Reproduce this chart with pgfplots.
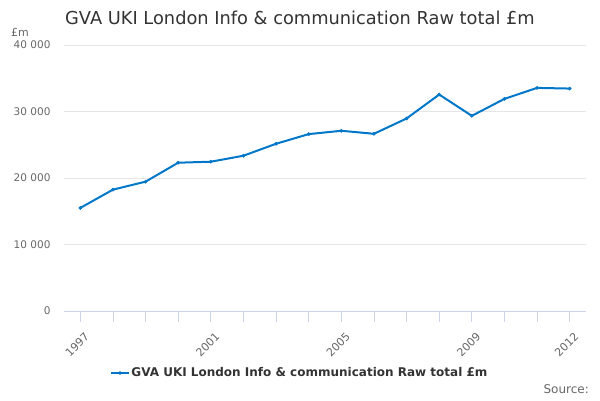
\documentclass[border=0pt]{standalone}
\usepackage{pgfplots}
\pgfplotsset{compat=1.18}
\usepackage{fontspec}
\setmainfont{DejaVu Sans}
\definecolor{lineblue}{RGB}{0,119,200}
\definecolor{gridgray}{RGB}{230,230,230}
\definecolor{axisblue}{RGB}{204,214,235}
\definecolor{txtdark}{RGB}{51,51,51}
\definecolor{txtgray}{RGB}{102,102,102}
\begin{document}
\begin{tikzpicture}[x=1bp,y=1bp]
\path[use as bounding box] (0,0) rectangle (600,400);
\node[anchor=base west, text=txtdark, font=\fontsize{17.8bp}{21bp}\selectfont, inner sep=0] at (65,376) {GVA UKI London Info \& communication Raw total £m};
\node[anchor=base west, text=txtgray, font=\fontsize{11bp}{13bp}\selectfont, inner sep=0] at (11,364) {£m};
\node[anchor=base east, text=txtgray, font=\fontsize{12bp}{14bp}\selectfont, inner sep=0] at (589,7) {Source:};
\begin{axis}[
  at={(64bp,89bp)}, anchor=south west,
  scale only axis, width=522bp, height=266bp,
  xmin=1996.5, xmax=2012.5, ymin=0, ymax=40000,
  scaled ticks=false,
  hide x axis,
  axis line style={draw=none},
  ytick={0,10000,20000,30000,40000},
  yticklabels={0,10 000,20 000,30 000,40 000},
  ymajorgrids, grid style={gridgray, line width=0.8pt},
  major tick length=0pt,
  yticklabel style={text=txtgray, font=\fontsize{10.5bp}{12bp}\selectfont, anchor=east, xshift=-10bp},
  legend style={at={(0.452,-0.233)}, anchor=center, draw=none, fill=none,
    font=\bfseries\fontsize{12bp}{14bp}\selectfont, text=txtdark},
  legend cell align=left,
]
\addplot[lineblue, line width=2bp, mark=*, mark size=1.6pt, mark options={fill=lineblue, draw=lineblue, line width=0.5pt}] coordinates {
(1997,15500) (1998,18250) (1999,19450) (2000,22300) (2001,22450) (2002,23350)
(2003,25150) (2004,26600) (2005,27100) (2006,26650) (2007,28950) (2008,32550)
(2009,29350) (2010,31900) (2011,33550) (2012,33450)};
\addlegendentry{GVA UKI London Info \& communication Raw total £m}
\end{axis}
\begin{axis}[
  at={(64bp,89bp)}, anchor=south west,
  scale only axis, width=522bp, height=266bp,
  xmin=1996.5, xmax=2012.5, ymin=0, ymax=40000,
  scaled ticks=false,
  hide y axis, axis x line*=bottom,
  axis line style={axisblue, line width=0.8pt, -},
  xtick={1997,2001,2005,2009,2012},
  xticklabels={1997,2001,2005,2009,2012},
  minor xtick={1997,...,2012},
  xticklabel style={text=txtgray, font=\fontsize{11bp}{13bp}\selectfont, rotate=45, anchor=east, xshift=-1bp, yshift=-14bp},
  major tick length=11bp, minor tick length=11bp,
  xtick style={axisblue, line width=0.8pt},
  minor x tick style={axisblue, line width=0.8pt},
  tick align=outside,
]
\addplot[draw=none] coordinates {(1997,0)};
\end{axis}
\end{tikzpicture}
\end{document}
